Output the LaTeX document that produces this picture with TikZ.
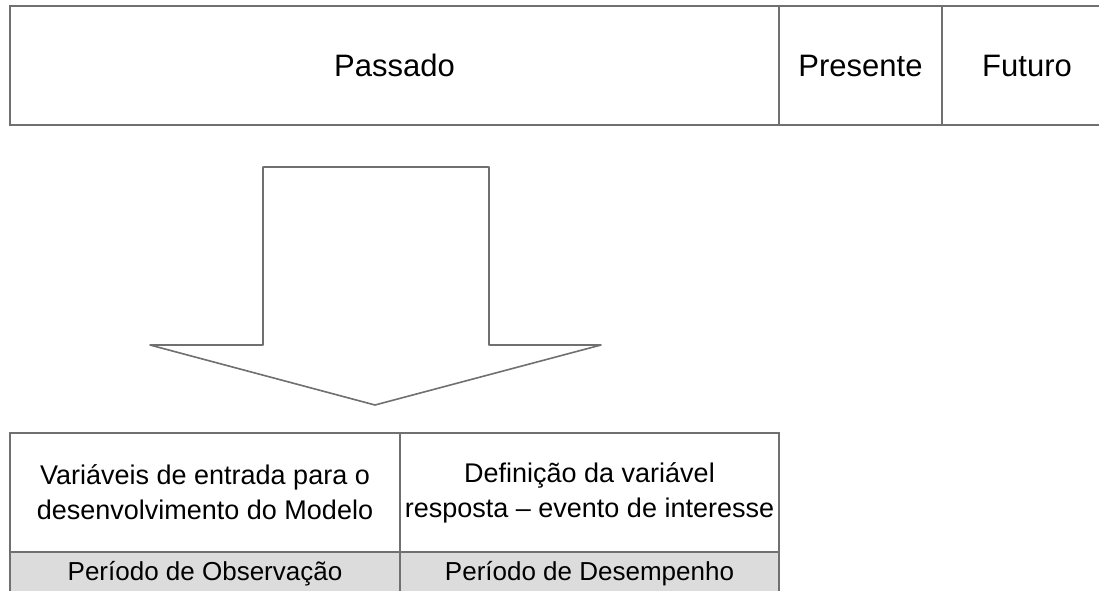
\documentclass[tikz,border=0pt]{standalone}
\usepackage{fontspec}
\setmainfont{Liberation Sans}
\usepackage{xcolor}
\usepackage{tikz}
\usetikzlibrary{positioning}
\definecolor{LineGray}{HTML}{707070}
\definecolor{RowGray}{HTML}{DCDCDC}

\begin{document}
\begin{tikzpicture}[
  x=1pt,y=-1pt,
  cell/.style={draw=LineGray,line width=1.6pt,inner sep=0pt,anchor=north west,align=center,outer sep=0pt},
  topcell/.style={cell,minimum height=119pt,font=\fontsize{31}{37}\selectfont},
  tabcell/.style={cell,minimum width=390pt,minimum height=119pt,font=\fontsize{27}{35}\selectfont},
  period/.style={cell,fill=RowGray,minimum width=390pt,minimum height=44pt,font=\fontsize{26}{30}\selectfont},
  bigarrow/.style={draw=LineGray,line width=1.6pt,fill=white,line join=round}
]
\useasboundingbox (0,0) rectangle (1099,590);
% time line
\node[topcell,minimum width=769pt] (passado) at (10,6) {Passado};
\node[topcell,minimum width=163pt,right=0pt of passado] (presente) {Presente};
\node[topcell,minimum width=170pt,right=0pt of presente] (futuro) {Futuro};
% block arrow
\coordinate (shaftL) at (263,167);
\coordinate (shaftR) at (489,167);
\coordinate (tip) at (375,405);
\draw[bigarrow] (shaftL) -- (shaftR) -- (489,345) -- (601,345) -- (tip) -- (150,345) -- (263,345) -- cycle;
% table
\node[tabcell] (entrada) at (10,433) {Variáveis de entrada para o\\desenvolvimento do Modelo};
\node[tabcell,right=0pt of entrada,minimum width=379pt] (resposta) {Definição da variável\\resposta -- evento de interesse};
\node[period,below=0pt of entrada] (obs) {Período de Observação};
\node[period,below=0pt of resposta,minimum width=379pt] (desemp) {Período de Desempenho};
\end{tikzpicture}
\end{document}
